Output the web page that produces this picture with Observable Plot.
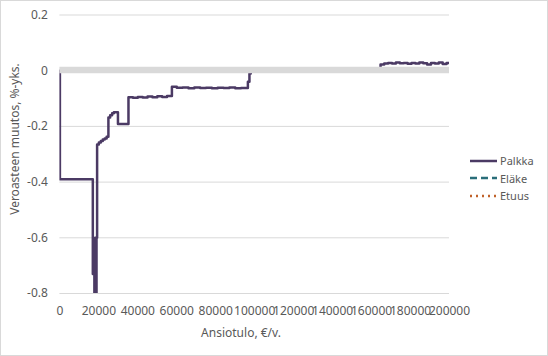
<!DOCTYPE html>
<html>
<head>
<meta charset="utf-8">
<script src="https://cdn.jsdelivr.net/npm/d3@7"></script>
<script src="https://cdn.jsdelivr.net/npm/@observablehq/plot@0.6"></script>
<style>
  html, body { margin: 0; padding: 0; background: #fff; }
  #wrap { position: relative; width: 548px; height: 356px; font-family: "Noto Sans", sans-serif; }
  #border { position: absolute; left: 0; top: 0; width: 548px; height: 356px; box-sizing: border-box; border: 1px solid #d9d9d9; pointer-events: none; }
  #legend { position: absolute; left: 470px; top: 152px; font-size: 11px; color: #595959; }
  .item { display: flex; align-items: center; height: 17.5px; }
  .item svg { margin-right: 3px; }
</style>
</head>
<body>
<div id="wrap"><div id="border"></div></div>
<script>
// Series names (legend)
const seriesNames = ["Palkka", "Eläke", "Etuus"];
const seriesColors = ["#4b3a64", "#2a6e7a", "#c0622a"];
const seriesDash = [null, "7,4", "2,4"];

// Palkka: income (€/v.) and change in tax rate (%-yks.)
const income = [0,0,16900,17300,17700,18100,18500,18800,19100,20000,21000,22000,23000,24000,24900,25800,26800,27700,29800,35200,37500,40000,42500,45000,47500,50000,52500,55000,57500,60000,63000,66000,69000,72000,75000,78000,81000,84000,87000,90000,93000,96500,97300,98000,164600,166500,168500,170500,172500,174500,176500,178500,180500,182500,184500,186500,188500,190500,192500,194500,196500,198500,200000];
const palkka = [0,-0.39,-0.73,-0.62,-0.82,-0.6,-0.82,-0.6,-0.265,-0.258,-0.252,-0.247,-0.243,-0.237,-0.168,-0.16,-0.153,-0.149,-0.191,-0.095,-0.097,-0.094,-0.096,-0.093,-0.095,-0.092,-0.094,-0.091,-0.058,-0.061,-0.06,-0.063,-0.06,-0.062,-0.061,-0.063,-0.061,-0.062,-0.06,-0.063,-0.062,-0.04,-0.01,0,0.022,0.026,0.028,0.026,0.029,0.027,0.028,0.025,0.028,0.026,0.029,0.027,0.022,0.028,0.026,0.029,0.024,0.028,0.028];

// Ticks
const xTicks = [0,20000,40000,60000,80000,100000,120000,140000,160000,180000,200000];
const yTicks = [0.2,0,-0.2,-0.4,-0.6,-0.8];
const gridTicks = [0.2,-0.2,-0.4,-0.6,-0.8];

const xTitle = "Ansiotulo, €/v.";
const yTitle = "Veroasteen muutos, %-yks.";

const data = income.map((x, i) => ({x, y: palkka[i]}));

const plot = Plot.plot({
  width: 548,
  height: 356,
  marginLeft: 59.4,
  marginRight: 99,
  marginTop: 14.5,
  marginBottom: 63,
  style: {fontFamily: "Noto Sans, sans-serif", fontSize: "12px", color: "#595959", background: "transparent", overflow: "visible"},
  x: {domain: [0, 200000], ticks: xTicks, tickFormat: d3.format("d"), tickSize: 0, tickPadding: 13, label: null},
  y: {domain: [-0.8, 0.2], ticks: yTicks, tickFormat: d => String(d), tickSize: 0, tickPadding: 12, label: null},
  marks: [
    Plot.ruleY(gridTicks, {stroke: "#d9d9d9", strokeWidth: 1}),
    Plot.line(data, {x: "x", y: "y", curve: "step-after", stroke: seriesColors[0], strokeWidth: 2.5, clip: true}),
    Plot.ruleY([0], {stroke: "#d9d9d9", strokeWidth: 6.5, dy: -0.7})
  ]
});

const wrap = document.getElementById("wrap");
plot.style.position = "absolute";
plot.style.left = "0px";
plot.style.top = "0px";
wrap.insertBefore(plot, wrap.firstChild);

const svg = d3.select(plot);
svg.append("text")
  .attr("x", 241).attr("y", 337)
  .attr("text-anchor", "middle")
  .attr("fill", "#595959")
  .style("font-size", "12px")
  .text(xTitle);
svg.append("text")
  .attr("transform", "translate(19,139) rotate(-90)")
  .attr("text-anchor", "middle")
  .attr("fill", "#595959")
  .style("font-size", "12px")
  .text(yTitle);

// Legend
const legend = document.createElement("div");
legend.id = "legend";
seriesNames.forEach((name, i) => {
  const item = document.createElement("div");
  item.className = "item";
  const dash = seriesDash[i] ? `stroke-dasharray="${seriesDash[i]}"` : "";
  item.innerHTML = `<svg width="27" height="8"><line x1="0" x2="27" y1="4" y2="4" stroke="${seriesColors[i]}" stroke-width="2.5" ${dash}/></svg><span>${name}</span>`;
  legend.appendChild(item);
});
wrap.appendChild(legend);
</script>
</body>
</html>
